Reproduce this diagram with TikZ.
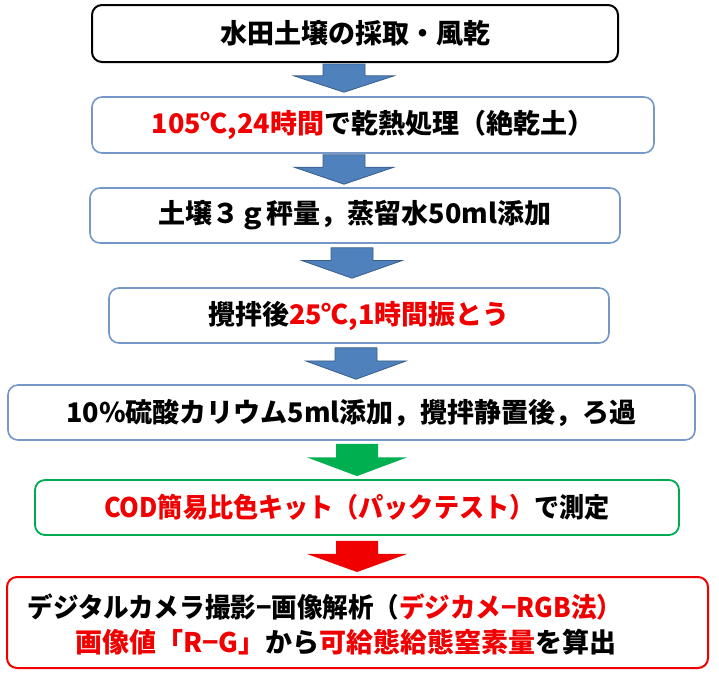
\documentclass[tikz,border=0pt]{standalone}
\usepackage{fontspec}
\setmainfont{Noto Sans CJK JP}
\usetikzlibrary{calc}
\definecolor{tred}{RGB}{240,0,0}
\definecolor{bborder}{RGB}{118,152,200}
\definecolor{gborder}{RGB}{0,170,80}
\definecolor{rborder}{RGB}{240,0,0}
\definecolor{afill}{RGB}{79,129,189}
\definecolor{aline}{RGB}{56,93,138}
\definecolor{gfill}{RGB}{0,176,80}
\newcommand\redt[1]{\textcolor{tred}{#1}}
\newcommand\blockarr[6]{%
 \path[#1] let \p1=(#2.south), \p2=(#3.north), \n1={\y1-#5pt}, \n2={\y2+#6pt}, \n3={\n1+0.42*(\n2-\n1)} in
 ({#4pt-21pt},\n1) -- ({#4pt+21pt},\n1) -- ({#4pt+21pt},\n3) -- ({#4pt+50pt},\n3) -- (#4pt,\n2) -- ({#4pt-50pt},\n3) -- ({#4pt-21pt},\n3) -- cycle;}
\tikzset{
 box/.style={rectangle, rounded corners=10pt, fill=white, inner sep=0pt,
   font=\fontsize{27}{32}\selectfont\bfseries},
 blackbox/.style={box, draw=black, line width=2pt},
 bluebox/.style={box, draw=bborder, line width=1.6pt},
 greenbox/.style={box, draw=gborder, line width=1.8pt},
 redbox/.style={box, draw=rborder, line width=2pt},
 linetext/.style={inner sep=0pt, font=\fontsize{27}{32}\selectfont\bfseries},
 bluearrow/.style={fill=afill, draw=aline, line width=0.8pt},
 greenarrow/.style={fill=gfill},
 redarrow/.style={fill=rborder},
}
\begin{document}
\begin{tikzpicture}[x=1pt,y=-1pt]
\useasboundingbox[fill=white] (0,0) rectangle (719,673);
\node[blackbox, minimum width=526pt, minimum height=57pt] (b1) at (355,33.5) {水田土壌の採取・風乾};
\node[bluebox, minimum width=562pt, minimum height=56pt] (b2) at (373,125) {\redt{105℃,24時間}で乾熱処理（絶乾土）};
\node[bluebox, minimum width=530pt, minimum height=55pt] (b3) at (355,215.5) {土壌３ｇ秤量，蒸留水50ml添加};
\node[bluebox, minimum width=500pt, minimum height=55pt] (b4) at (359,315.5) {攪拌後\redt{25℃,1時間振とう}};
\node[bluebox, minimum width=687pt, minimum height=55pt] (b5) at (351.5,412.5) {10\%硫酸カリウム5ml添加，攪拌静置後，ろ過};
\node[greenbox, minimum width=644pt, minimum height=55pt] (b6) at (357,507.5) {\scalebox{0.93}[1]{\redt{COD簡易比色キット（パックテスト）}で測定}};
\node[redbox, minimum width=701pt, minimum height=91pt] (b7) at (357.5,622.5) {};
\node[linetext] (l1) at (325,607) {\scalebox{0.945}[1]{デジタルカメラ撮影−画像解析（\redt{デジカメ−RGB法）}}};
\node[linetext] (l2) at (346,642) {\redt{画像値「R−G」}から\redt{可給態給態窒素量}を算出};
\blockarr{bluearrow}{b1}{b2}{344}{1}{4}
\blockarr{bluearrow}{b2}{b3}{344}{1}{3}
\blockarr{bluearrow}{b3}{b4}{352}{4}{9}
\blockarr{bluearrow}{b4}{b5}{356}{4}{5}
\blockarr{greenarrow}{b5}{b6}{357}{3}{3}
\blockarr{redarrow}{b6}{b7}{357}{5}{4}
\end{tikzpicture}
\end{document}
